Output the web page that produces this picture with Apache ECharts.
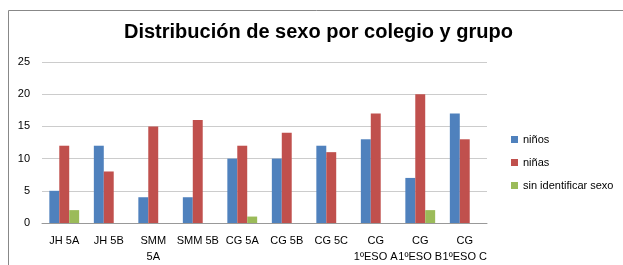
<!DOCTYPE html>
<html><head><meta charset="utf-8">
<script src="https://cdn.jsdelivr.net/npm/echarts@6/dist/echarts.min.js"></script>
<style>html,body{margin:0;padding:0;background:#fff}#c{width:623px;height:265px}</style>
</head><body><div id="c"></div>
<script>
const categories = ['JH 5A','JH 5B','SMM\n5A','SMM 5B','CG 5A','CG 5B','CG 5C','CG\n1ºESO A','CG\n1ºESO B','CG\n1ºESO C'];
const ninos = [5,12,4,4,10,10,12,13,7,17];
const ninas = [12,8,15,16,12,14,11,17,20,13];
const sinIdentificar = [2,0,0,0,1,0,0,0,2,0];
const yTicks = [0,5,10,15,20,25];

const font = 'Liberation Sans';
const chart = echarts.init(document.getElementById('c'), null, {renderer:'canvas'});
chart.setOption({
  animation:false,
  title:{text:'Distribución de sexo por colegio y grupo',left:119,top:17,
    textStyle:{fontFamily:font,fontWeight:'bold',fontSize:20,color:'#000'}},
  graphic:[{type:'rect',shape:{x:8.5,y:10.5,width:700,height:400},style:{fill:'none',stroke:'#888',lineWidth:1}}],
  legend:{orient:'vertical',left:506,top:129,itemWidth:7,itemHeight:7,itemGap:12,icon:'rect',
    textStyle:{fontFamily:font,fontSize:11,color:'#000'},
    data:['niños','niñas','sin identificar sexo']},
  grid:{left:42,right:136,top:62,bottom:42,containLabel:false},
  xAxis:{type:'category',data:categories,
    axisLine:{lineStyle:{color:'#999'}},axisTick:{show:false},
    axisLabel:{interval:0,fontFamily:font,fontSize:11,color:'#000',lineHeight:16,margin:10}},
  yAxis:{type:'value',min:0,max:25,interval:5,
    axisLine:{show:false},axisTick:{show:false},
    splitLine:{lineStyle:{color:'#ccc'}},
    axisLabel:{fontFamily:font,fontSize:11,color:'#000',margin:12,
      formatter:v=>yTicks.includes(v)?String(v):''}},
  series:[
    {name:'niños',type:'bar',data:ninos,itemStyle:{color:'#4F81BD'},barGap:'0%',barCategoryGap:'33%'},
    {name:'niñas',type:'bar',data:ninas,itemStyle:{color:'#C0504D'}},
    {name:'sin identificar sexo',type:'bar',data:sinIdentificar,itemStyle:{color:'#9BBB59'}}
  ]
});
</script></body></html>
